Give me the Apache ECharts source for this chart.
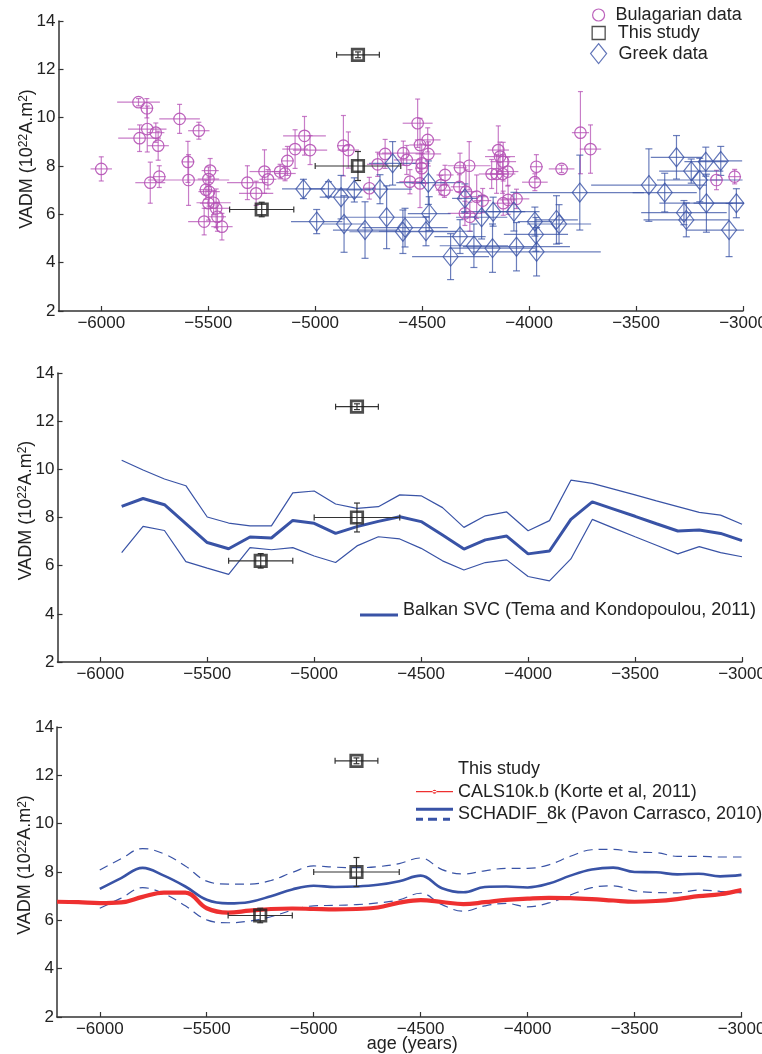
<!DOCTYPE html>
<html>
<head>
<meta charset="utf-8">
<script src="https://cdn.jsdelivr.net/npm/echarts@6/dist/echarts.min.js"></script>
<style>html,body{margin:0;padding:0;background:#fff}#c{width:762px;height:1054px}</style>
</head>
<body>
<div id="c"></div>
<script>
// ---------- data ----------
const xTicks = [-6000, -5500, -5000, -4500, -4000, -3500, -3000];

// Bulgarian data
const bgAge = [-6000,-5826,-5787,-5821,-5785,-5745,-5734,-5771,-5729,-5634,
  -5544,-5595,-5592,-5519,-5491,-5499,-5511,-5496,-5499,-5475,
  -5463,-5457,-5436,-5317,-5276,-5237,-5221,-5164,-5141,-5130,
  -5094,-5050,-5024,-4868,-4845,-4747,-4708,-4673,-4588,-4572,
  -4521,-4510,-4474,-4471,-4502,-4502,-4557,-4510,-4412,-4393,
  -4396,-4323,-4280,-4326,-4295,-4300,-4277,-4245,-4217,-4144,
  -4136,-4121,-4175,-4152,-4124,-4100,-4121,-4098,-4059,-3966,
  -3973,-3848,-3760,-3713,-3124,-3039];
const bgVadm = [7.88,10.64,10.39,9.15,9.53,9.38,8.84,7.31,7.56,9.95,
  9.46,8.17,7.42,5.70,7.81,7.46,7.02,6.94,6.46,6.48,
  6.25,5.90,5.49,7.31,6.87,7.77,7.45,7.77,7.69,8.21,
  8.70,9.25,8.66,8.84,8.66,7.08,8.07,8.50,8.53,8.25,
  9.77,8.87,9.08,8.50,8.11,7.91,7.35,7.28,7.21,7.63,
  7.00,7.93,8.01,7.14,6.94,6.04,5.90,6.73,6.57,8.66,
  8.39,8.18,7.67,7.67,7.67,7.77,6.46,6.60,6.64,7.97,
  7.33,7.88,9.38,8.70,7.42,7.56];
const bgAgeErr = [50,100,30,100,90,40,50,70,30,95,
  50,30,190,75,40,50,30,50,40,80,
  60,40,50,95,80,70,40,40,50,30,
  60,100,80,30,50,30,50,40,100,60,
  70,50,60,60,40,30,50,40,40,40,
  40,30,100,40,50,80,30,50,40,50,
  70,60,60,50,60,50,50,40,60,30,
  60,60,40,50,30,30];
const bgVadmErr = [0.5,0.15,0.4,0.55,0.95,0.4,0.6,0.85,0.45,0.6,
  0.35,0.85,1.05,0.55,0.5,0.5,0.4,0.6,0.7,0.5,
  0.8,0.6,0.55,0.7,0.5,0.9,0.4,0.3,0.3,0.6,
  0.8,0.8,0.6,1.25,0.75,0.45,0.5,0.6,0.5,0.6,
  1.0,1.1,0.5,0.5,0.8,0.6,0.5,1.0,0.4,0.4,
  0.3,0.6,1.0,0.5,0.9,0.5,0.6,0.9,0.5,1.0,
  0.6,0.8,0.6,0.8,0.8,0.6,0.5,0.6,0.4,0.5,
  0.35,0.15,1.7,1.0,0.4,0.3];

// Greek data
const grAge = [-5055,-4938,-4879,-4817,-4697,-4638,-4993,-4865,-4767,-4666,
  -4580,-4590,-4471,-4467,-4482,-4300,-4323,-4367,-4258,-4222,
  -4171,-4168,-4071,-4059,-3973,-3968,-3965,-3872,-3860,-3763,
  -3440,-3366,-3311,-3242,-3202,-3174,-3104,-3276,-3265,-3171,
  -3065,-3031];
const grVadm = [7.05,7.05,6.71,7.01,7.04,8.11,5.70,5.60,5.35,5.88,
  5.45,5.28,7.31,6.03,5.30,6.66,5.08,4.25,4.70,5.88,
  4.60,6.11,6.11,4.66,5.70,5.17,4.45,5.77,5.60,6.90,
  7.21,6.90,8.36,7.79,7.42,8.18,8.21,6.07,5.77,6.46,
  5.35,6.46];
const grAgeErr = [100,90,100,80,150,110,120,100,150,200,
  200,250,150,100,220,60,120,180,160,120,
  200,150,120,250,80,150,300,100,150,300,
  270,150,120,150,200,100,100,200,200,220,
  200,200];
const grVadmErr = [0.4,0.3,0.9,0.5,0.6,0.9,0.5,1.17,1.17,1.3,
  0.8,0.9,0.9,0.7,0.6,0.6,0.7,0.95,0.9,0.9,
  1.0,0.6,0.8,1.0,0.6,0.7,1.0,1.0,0.8,1.55,
  1.5,0.8,0.9,0.5,0.9,0.6,0.6,0.5,0.7,1.2,
  1.1,0.6];

// This study
const stAge = [-4800, -4800, -5250];
const stVadm = [12.6, 8.0, 6.2];
const stAgeErr = [100, 200, 150];
const stVadmErr = [0.12, 0.6, 0.3];

// Balkan SVC (Tema and Kondopoulou, 2011)
const svcAge = [-5900,-5800,-5700,-5600,-5500,-5400,-5300,-5200,-5100,-5000,
  -4900,-4800,-4700,-4600,-4500,-4400,-4300,-4200,-4100,-4000,
  -3900,-3800,-3700,-3600,-3500,-3400,-3300,-3200,-3100,-3000];
const svcMean = [8.46,8.79,8.53,7.75,6.96,6.70,7.19,7.15,7.88,7.76,
  7.34,7.62,7.84,8.03,7.83,7.27,6.69,7.07,7.23,6.49,
  6.61,7.92,8.65,8.35,8.05,7.74,7.44,7.48,7.34,7.04];
const svcUpper = [10.38,9.97,9.60,9.32,8.02,7.77,7.65,7.65,9.02,9.10,
  8.56,8.38,8.45,8.94,8.90,8.41,7.59,8.07,8.23,7.45,
  7.87,9.55,9.42,9.18,8.94,8.69,8.45,8.21,8.10,7.72];
const svcLower = [6.54,7.63,7.46,6.17,5.90,5.64,6.75,6.66,6.75,6.40,
  6.13,6.82,7.20,7.11,6.72,6.20,5.82,6.13,6.24,5.55,
  5.37,6.28,7.92,7.56,7.20,6.85,6.49,6.79,6.54,6.37];

// SCHADIF_8k (Pavon Carrasco, 2010)
const schAge = [-6000,-5900,-5800,-5700,-5600,-5500,-5400,-5300,-5200,-5100,
  -5000,-4900,-4800,-4700,-4600,-4500,-4400,-4300,-4200,-4100,
  -4000,-3900,-3800,-3700,-3600,-3500,-3400,-3300,-3200,-3100,-3000];
const schMean = [7.30,7.75,8.17,7.85,7.40,6.85,6.70,6.76,7.00,7.28,
  7.43,7.38,7.40,7.47,7.62,7.85,7.33,7.16,7.38,7.40,
  7.36,7.52,7.85,8.10,8.18,8.00,7.99,7.90,7.93,7.82,7.88];
const schUpper = [8.08,8.55,8.97,8.75,8.25,7.62,7.50,7.50,7.65,7.98,
  8.25,8.20,8.18,8.22,8.35,8.58,8.10,7.92,8.05,8.15,
  8.15,8.30,8.65,8.92,8.94,8.82,8.80,8.65,8.65,8.62,8.62];
const schLower = [6.50,6.92,7.35,7.10,6.60,6.02,5.90,5.97,6.15,6.42,
  6.60,6.62,6.65,6.72,6.85,7.12,6.65,6.38,6.60,6.70,
  6.56,6.72,7.05,7.35,7.43,7.22,7.15,7.14,7.25,7.20,7.14];

// CALS10k.b (Korte et al, 2011)
const calsAge = [-6200,-6100,-6000,-5900,-5800,-5700,-5600,-5500,-5400,-5300,
  -5200,-5100,-5000,-4900,-4800,-4700,-4600,-4500,-4400,-4300,
  -4200,-4100,-4000,-3900,-3800,-3700,-3600,-3500,-3400,-3300,
  -3200,-3100,-3000];
const calsVadm = [6.77,6.75,6.71,6.74,6.97,7.15,7.15,6.50,6.32,6.40,
  6.47,6.49,6.47,6.45,6.47,6.53,6.73,6.84,6.76,6.67,
  6.75,6.85,6.90,6.93,6.92,6.88,6.82,6.77,6.80,6.88,
  7.00,7.08,7.25];

// ---------- styling ----------
const FONT = 'Liberation Sans, Arial, Helvetica, sans-serif';
const PURPLE = '#b552b5';
const BLUE = '#3953a6';
const BLACK = '#222222';
const RED = '#ee3030';

const zip4 = (a, b, c, d) => a.map((v, i) => [v, b[i], c[i], d[i]]);
const zip2 = (a, b) => a.map((v, i) => [v, b[i]]);

function errRender(color, width, opacity, cap, xcap) {
  return function (params, api) {
    const x = api.value(0), y = api.value(1), dx = api.value(2), dy = api.value(3);
    const l = api.coord([x - dx, y]), r = api.coord([x + dx, y]);
    const t = api.coord([x, y + dy]), b = api.coord([x, y - dy]);
    const style = { stroke: color, lineWidth: width, opacity: opacity };
    const ch = [
      { type: 'line', shape: { x1: l[0], y1: l[1], x2: r[0], y2: r[1] }, style },
      { type: 'line', shape: { x1: t[0], y1: t[1], x2: b[0], y2: b[1] }, style },
      { type: 'line', shape: { x1: t[0] - cap, y1: t[1], x2: t[0] + cap, y2: t[1] }, style },
      { type: 'line', shape: { x1: b[0] - cap, y1: b[1], x2: b[0] + cap, y2: b[1] }, style }
    ];
    if (xcap > 0) {
      ch.push({ type: 'line', shape: { x1: l[0], y1: l[1] - xcap, x2: l[0], y2: l[1] + xcap }, style });
      ch.push({ type: 'line', shape: { x1: r[0], y1: r[1] - xcap, x2: r[0], y2: r[1] + xcap }, style });
    }
    return { type: 'group', children: ch };
  };
}

const fmtX = v => String(v).replace('-', '\u2212');

function xAxis(gi, withName) {
  const a = {
    type: 'value', gridIndex: gi, min: -6200, max: -3000,
    axisLine: { show: true, onZero: false, lineStyle: { color: '#333', width: 1.5 } },
    axisTick: { show: true, inside: true, length: 5, customValues: xTicks, lineStyle: { color: '#333', width: 1.2 } },
    axisLabel: { customValues: xTicks, margin: 4, fontSize: 17, color: '#222', fontFamily: FONT, formatter: fmtX },
    splitLine: { show: false }
  };
  if (withName) {
    a.name = 'age (years)';
    a.nameLocation = 'middle';
    a.nameGap = 18.5;
    a.nameMoveOverlap = false;
    a.nameTextStyle = { fontSize: 18, color: '#222', fontFamily: FONT, padding: [0, 0, 0, 26] };
  }
  return a;
}
function yAxis(gi) {
  return {
    type: 'value', gridIndex: gi, min: 2, max: 14, interval: 2,
    axisLine: { show: true, onZero: false, lineStyle: { color: '#333', width: 1.5 } },
    axisTick: { show: true, inside: true, length: 5, lineStyle: { color: '#333', width: 1.2 } },
    axisLabel: { margin: 3, fontSize: 17, color: '#222', fontFamily: FONT },
    splitLine: { show: false },
    name: '{m|VADM (10}{s|22}{m|A.m}{s|2}{m|)}',
    nameLocation: 'middle', nameGap: 22.5, nameRotate: 90, nameMoveOverlap: false,
    nameTextStyle: {
      padding: [0, 0, 0, 14],
      rich: {
        m: { fontSize: 18, lineHeight: 18, color: '#222', fontFamily: FONT, verticalAlign: 'bottom' },
        s: { fontSize: 12, lineHeight: 12, color: '#222', fontFamily: FONT, verticalAlign: 'top', padding: [0, 0, 11, 0] }
      }
    }
  };
}

function studySeries(gi) {
  return [
    { type: 'custom', xAxisIndex: gi, yAxisIndex: gi, clip: true, silent: true,
      renderItem: errRender('#333', 1.2, 1, 3, 3),
      data: zip4(stAge, stVadm, stAgeErr, stVadmErr), encode: { x: 0, y: 1 }, z: 5 },
    { type: 'scatter', name: 'This study', xAxisIndex: gi, yAxisIndex: gi,
      symbol: 'rect', symbolSize: 11.5,
      itemStyle: { color: 'rgba(0,0,0,0)', borderColor: BLACK, borderWidth: 2.7 },
      data: zip2(stAge, stVadm), z: 6 }
  ];
}

const legTxt = { fontSize: 18, color: '#222', fontFamily: FONT };

const option = {
  animation: false,
  backgroundColor: '#fff',
  grid: [
    { left: 58.5, top: 21, width: 684.5, height: 290, outerBoundsMode: 'none' },
    { left: 57.5, top: 373, width: 684.5, height: 289, outerBoundsMode: 'none' },
    { left: 57, top: 727, width: 684.5, height: 290, outerBoundsMode: 'none' }
  ],
  xAxis: [xAxis(0, false), xAxis(1, false), xAxis(2, true)],
  yAxis: [yAxis(0), yAxis(1), yAxis(2)],
  legend: [
    { data: [{ name: 'Bulagarian data', icon: 'circle', itemStyle: { color: 'rgba(0,0,0,0)', borderColor: PURPLE, borderWidth: 1.2 } }],
      left: 592, top: 6, padding: 0, itemWidth: 12, itemHeight: 12, selectedMode: false,
      textStyle: Object.assign({ padding: [0, 0, 0, 6] }, legTxt) },
    { data: [{ name: 'This study', icon: 'rect', itemStyle: { color: 'rgba(0,0,0,0)', borderColor: BLACK, borderWidth: 1.3 } }],
      left: 591.5, top: 24, padding: 0, itemWidth: 13, itemHeight: 13, selectedMode: false,
      textStyle: Object.assign({ padding: [0, 0, 0, 7.5] }, legTxt) },
    { data: [{ name: 'Greek data', icon: 'diamond', itemStyle: { color: 'rgba(0,0,0,0)', borderColor: BLUE, borderWidth: 1.2 } }],
      left: 590, top: 43, padding: 0, itemWidth: 16, itemHeight: 20, selectedMode: false,
      textStyle: Object.assign({ padding: [0, 0, 0, 7] }, legTxt) },
    { data: [{ name: 'Balkan SVC (Tema and Kondopoulou, 2011)', icon: 'path://M0,0h0.01v0.01h-0.01z M0,10H38V13H0z', itemStyle: { color: BLUE, borderWidth: 0 } }],
      left: 360, top: 601, padding: 0, itemWidth: 38, itemHeight: 13, selectedMode: false,
      textStyle: legTxt },
    { data: [{ name: 'This study', icon: 'none' }],
      left: 416, top: 760.3, padding: 0, itemWidth: 37, itemHeight: 14, selectedMode: false,
      textStyle: legTxt },
    { data: [{ name: 'CALS10k.b (Korte et al, 2011)', icon: 'path://M0,0h0.01v0.01h-0.01z M0,6.4H37V7.6H0z M16.5,7a2,2 0 1,0 4,0a2,2 0 1,0 -4,0z M36.99,13.99h0.01v0.01h-0.01z', itemStyle: { color: RED, borderWidth: 0 } }],
      left: 416, top: 782.7, padding: 0, itemWidth: 37, itemHeight: 14, selectedMode: false,
      textStyle: legTxt },
    { data: [{ name: 'SCHADIF_8k (Pavon Carrasco, 2010)', icon: 'path://M0,0H37V3H0z M0,10H7V13H0z M12,10H21V13H12z M27,10H34V13H27z M36.99,12.99h0.01v0.01h-0.01z', itemStyle: { color: BLUE, borderWidth: 0 } }],
      left: 416, top: 805.2, padding: 0, itemWidth: 37, itemHeight: 13, selectedMode: false,
      textStyle: Object.assign({ padding: [0, 0, 5, 0] }, legTxt) }
  ],
  series: [
    // ----- panel 1 -----
    { type: 'custom', xAxisIndex: 0, yAxisIndex: 0, clip: true, silent: true,
      renderItem: errRender(PURPLE, 1.2, 0.75, 2.5, 0),
      data: zip4(bgAge, bgVadm, bgAgeErr, bgVadmErr), encode: { x: 0, y: 1 }, z: 2 },
    { type: 'scatter', name: 'Bulagarian data', xAxisIndex: 0, yAxisIndex: 0,
      symbol: 'circle', symbolSize: 11.5,
      itemStyle: { color: 'rgba(0,0,0,0)', borderColor: PURPLE, borderWidth: 1.2, opacity: 0.9 },
      data: zip2(bgAge, bgVadm), z: 3 },
    { type: 'custom', xAxisIndex: 0, yAxisIndex: 0, clip: true, silent: true,
      renderItem: errRender(BLUE, 1.2, 0.75, 3.5, 0),
      data: zip4(grAge, grVadm, grAgeErr, grVadmErr), encode: { x: 0, y: 1 }, z: 3 },
    { type: 'scatter', name: 'Greek data', xAxisIndex: 0, yAxisIndex: 0,
      symbol: 'diamond', symbolSize: [15, 19],
      itemStyle: { color: 'rgba(0,0,0,0)', borderColor: BLUE, borderWidth: 1.2 },
      data: zip2(grAge, grVadm), z: 4 },
    ...studySeries(0),
    // ----- panel 2 -----
    { type: 'line', xAxisIndex: 1, yAxisIndex: 1, symbol: 'none', silent: true,
      lineStyle: { color: BLUE, width: 1.2 }, data: zip2(svcAge, svcUpper), z: 2 },
    { type: 'line', xAxisIndex: 1, yAxisIndex: 1, symbol: 'none', silent: true,
      lineStyle: { color: BLUE, width: 1.2 }, data: zip2(svcAge, svcLower), z: 2 },
    { type: 'line', name: 'Balkan SVC (Tema and Kondopoulou, 2011)', xAxisIndex: 1, yAxisIndex: 1, symbol: 'none',
      itemStyle: { color: BLUE }, lineStyle: { color: BLUE, width: 3 }, data: zip2(svcAge, svcMean), z: 3 },
    ...studySeries(1),
    // ----- panel 3 -----
    { type: 'line', xAxisIndex: 2, yAxisIndex: 2, symbol: 'none', silent: true, smooth: 0.4,
      lineStyle: { color: BLUE, width: 1.2, type: [9, 6] }, data: zip2(schAge, schUpper), z: 2 },
    { type: 'line', xAxisIndex: 2, yAxisIndex: 2, symbol: 'none', silent: true, smooth: 0.4,
      lineStyle: { color: BLUE, width: 1.2, type: [9, 6] }, data: zip2(schAge, schLower), z: 2 },
    { type: 'line', name: 'SCHADIF_8k (Pavon Carrasco, 2010)', xAxisIndex: 2, yAxisIndex: 2, symbol: 'none', smooth: 0.4,
      itemStyle: { color: BLUE }, lineStyle: { color: BLUE, width: 2.6 }, data: zip2(schAge, schMean), z: 3 },
    { type: 'line', name: 'CALS10k.b (Korte et al, 2011)', xAxisIndex: 2, yAxisIndex: 2, symbol: 'none', smooth: 0.4,
      itemStyle: { color: RED }, lineStyle: { color: RED, width: 4.2 }, data: zip2(calsAge, calsVadm), z: 4 },
    ...studySeries(2)
  ]
};

const chart = echarts.init(document.getElementById('c'), null, { renderer: 'canvas' });
chart.setOption(option);
</script>
</body>
</html>
